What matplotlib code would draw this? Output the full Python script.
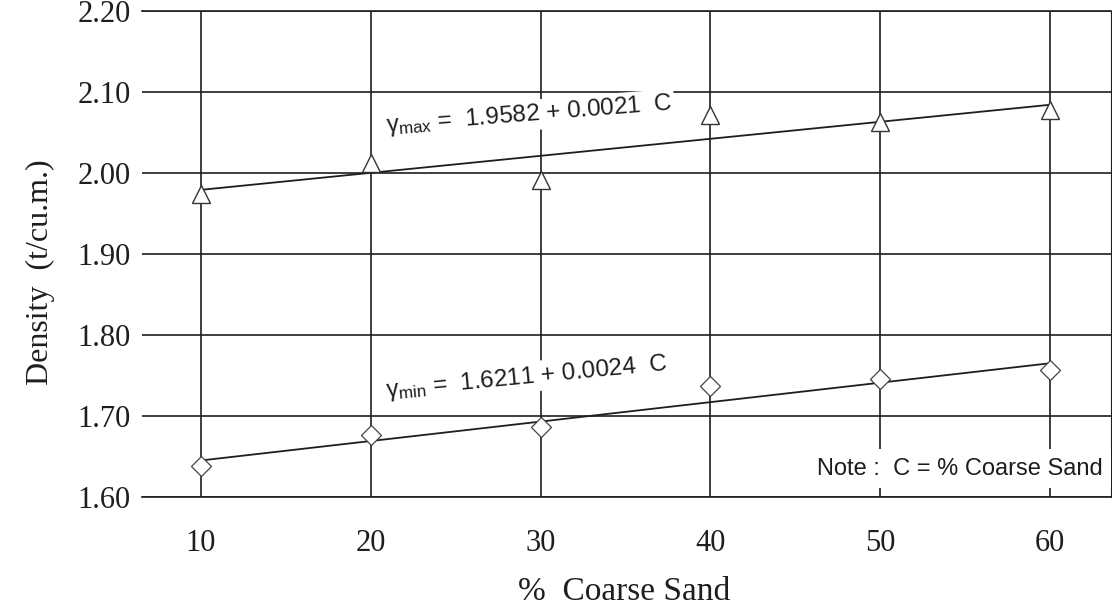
import numpy as np
import matplotlib
matplotlib.use("Agg")
import matplotlib.pyplot as plt

# data
coarse_sand = [10, 20, 30, 40, 50, 60]
gamma_max = [1.974, 2.012, 1.991, 2.072, 2.063, 2.078]
gamma_min = [1.638, 1.677, 1.686, 1.737, 1.746, 1.757]

# regression coefficients (from the equations on the chart)
max_fit = (1.9582, 0.0021)
min_fit = (1.6211, 0.0024)

x_ticks = [10, 20, 30, 40, 50, 60]
y_ticks = [1.60, 1.70, 1.80, 1.90, 2.00, 2.10, 2.20]

serif = "Liberation Serif"
sans = "Liberation Sans"
ink = "#1e1e1e"

fig = plt.figure(figsize=(11.12, 6.12), dpi=100)
ax = fig.add_axes([142 / 1112, 1 - 497 / 612, 969 / 1112, 486 / 612])

ax.set_xlim(6.53, 63.6)
ax.set_ylim(1.60, 2.20)
ax.set_xticks(x_ticks)
ax.set_yticks(y_ticks)
ax.set_yticklabels([f"{v:.2f}" for v in y_ticks])
ax.tick_params(length=0, labelsize=22, colors=ink)
ax.tick_params(axis="y", pad=8)
ax.tick_params(axis="x", pad=23)
for lab in ax.get_xticklabels() + ax.get_yticklabels():
    lab.set_family(serif)

ax.grid(True, color=ink, lw=1.2)
ax.set_axisbelow(True)
ax.spines["left"].set_visible(False)
for side in ["top", "bottom", "right"]:
    ax.spines[side].set_color(ink)
    ax.spines[side].set_linewidth(1.2)
ax.spines["right"].set_linewidth(0.8)

# points and fitted lines
c = np.array(coarse_sand)
ax.plot(c, gamma_max, ls="none", marker="^", ms=13, mfc="white",
        mec="#333333", mew=1.0, zorder=4)
ax.plot(c, gamma_min, ls="none", marker="D", ms=10, mfc="white",
        mec="#444444", mew=0.9, zorder=4)
ax.plot(c, max_fit[0] + max_fit[1] * c, color=ink, lw=1.3, zorder=3)
ax.plot(c, min_fit[0] + min_fit[1] * c, color=ink, lw=1.3, zorder=3)

box = dict(facecolor="white", edgecolor="none", pad=1.5)
ax.text(20.9, 2.050, r"$\mathregular{\gamma_{max}}$ =  1.9582 + 0.0021  C",
        family=sans, fontsize=17.5, color=ink, rotation=4.5,
        rotation_mode="anchor", ha="left", va="baseline", bbox=box, zorder=5)
ax.text(20.9, 1.724, r"$\mathregular{\gamma_{min}}$ =  1.6211 + 0.0024  C",
        family=sans, fontsize=17.5, color=ink, rotation=5.5,
        rotation_mode="anchor", ha="left", va="baseline", bbox=box, zorder=5)

ax.text(63.1, 1.635, "Note :  C = % Coarse Sand", family=sans, fontsize=17,
        color=ink, ha="right", va="center",
        bbox=dict(facecolor="white", edgecolor="none", pad=6), zorder=5)

fig.text(40 / 1112, 1 - 272 / 612, "Density  (t/cu.m.)", family=serif,
         fontsize=23, color=ink, rotation=90, ha="center", va="center")
fig.text(624 / 1112, 1 - 592 / 612, "%  Coarse Sand", family=serif,
         fontsize=24, color=ink, ha="center", va="center")

fig.savefig("out.png", dpi=100, facecolor="white")
